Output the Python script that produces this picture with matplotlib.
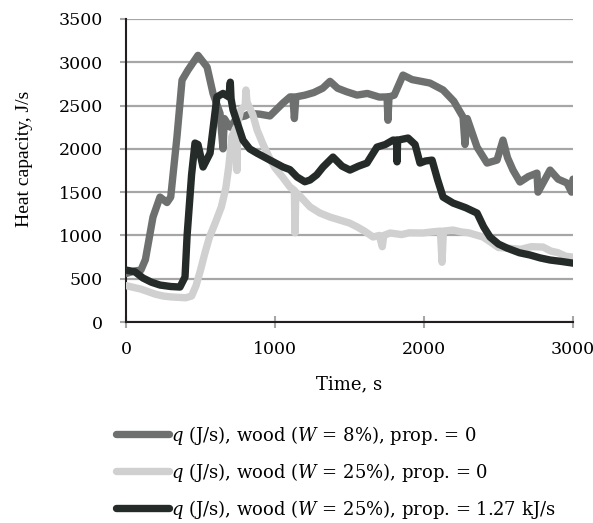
import matplotlib.pyplot as plt
from matplotlib.lines import Line2D

plt.rcParams['font.family'] = 'DejaVu Serif'
plt.rcParams['mathtext.fontset'] = 'dejavuserif'

# --- data ---
t_w8 = [0, 60, 100, 130, 181, 228, 275, 300, 342, 376, 416, 483, 544, 584, 631, 651, 660, 678,
        700, 745, 800, 832, 900, 966, 1054, 1101, 1120, 1130, 1140, 1200, 1260, 1320, 1369, 1420,
        1480, 1550, 1620, 1700, 1752, 1758, 1765, 1800, 1859, 1920, 1980, 2040, 2128, 2200, 2262,
        2275, 2290, 2356, 2423, 2490, 2530, 2560, 2597, 2644, 2700, 2758, 2765, 2846, 2900, 2960,
        2990, 3000]
q_w8 = [560, 590, 600, 720, 1212, 1443, 1380, 1443, 2140, 2794, 2910, 3080, 2945, 2640, 2410, 2000,
        2350, 2300, 2250, 2360, 2380, 2410, 2400, 2380, 2530, 2600, 2600, 2350, 2600, 2620, 2650,
        2700, 2780, 2700, 2660, 2621, 2640, 2598, 2600, 2330, 2600, 2620, 2852, 2800, 2780, 2760,
        2680, 2550, 2367, 2050, 2350, 2020, 1836, 1870, 2101, 1900, 1755, 1617, 1680, 1720, 1500,
        1755, 1650, 1605, 1500, 1650]

t_w25 = [0, 50, 100, 150, 200, 250, 300, 350, 400, 440, 470, 500, 530, 560, 600, 640, 670, 690,
         710, 740, 745, 750, 770, 800, 805, 812, 850, 880, 920, 960, 1000, 1050, 1100, 1130, 1134,
         1140, 1170, 1235, 1300, 1369, 1430, 1500, 1550, 1600, 1658, 1700, 1720, 1730, 1772, 1850,
         1900, 1993, 2050, 2110, 2121, 2130, 2195, 2250, 2300, 2396, 2450, 2500, 2557, 2650, 2720,
         2799, 2850, 2900, 2950, 3000]
q_w25 = [420, 400, 380, 350, 320, 300, 290, 285, 280, 300, 420, 600, 800, 980, 1150, 1330, 1550,
         1800, 2140, 2250, 1750, 2300, 2450, 2500, 2680, 2540, 2400, 2217, 2050, 1905, 1780, 1675,
         1560, 1520, 1030, 1500, 1450, 1330, 1260, 1212, 1180, 1143, 1100, 1050, 982, 1000, 870,
         1000, 1028, 1010, 1030, 1028, 1040, 1050, 690, 1050, 1062, 1040, 1030, 982, 920, 860, 854,
         840, 870, 866, 820, 800, 760, 750]

t_prop = [0, 60, 114, 170, 228, 300, 362, 396, 410, 440, 463, 483, 517, 564, 610, 651, 690, 700,
          705, 718, 785, 830, 879, 966, 1054, 1100, 1148, 1200, 1235, 1280, 1322, 1389, 1450, 1503,
          1560, 1617, 1684, 1740, 1792, 1815, 1819, 1823, 1893, 1940, 1973, 2010, 2054, 2090, 2128,
          2195, 2280, 2356, 2400, 2443, 2500, 2557, 2640, 2711, 2780, 2846, 2920, 3000]
q_prop = [600, 580, 508, 460, 427, 410, 404, 520, 1000, 1700, 2067, 2050, 1790, 1950, 2600, 2640,
          2600, 2770, 2580, 2450, 2100, 2000, 1950, 1870, 1790, 1760, 1675, 1620, 1640, 1700, 1790,
          1905, 1800, 1755, 1800, 1836, 2020, 2050, 2101, 2100, 1850, 2100, 2125, 2050, 1836, 1860,
          1870, 1650, 1443, 1374, 1320, 1258, 1100, 982, 900, 854, 800, 774, 740, 716, 700, 680]

labels = [r'$q$ (J/s), wood ($W$ = 8%), prop. = 0',
          r'$q$ (J/s), wood ($W$ = 25%), prop. = 0',
          r'$q$ (J/s), wood ($W$ = 25%), prop. = 1.27 kJ/s']
colors = ['#6d706f', '#d0d0d0', '#252b29']

fig = plt.figure(figsize=(5.93, 5.23), dpi=100)
ax = fig.add_axes([0.2125, 0.3843, 0.7538, 0.5794])

series = [(t_w8, q_w8), (t_w25, q_w25), (t_prop, q_prop)]
for (t, q), c in zip(series, colors):
    ax.plot(t, q, color=c, lw=5.3, solid_joinstyle='round', solid_capstyle='round', zorder=3)

ax.set_xlim(0, 3000)
ax.set_ylim(0, 3500)
ax.set_xticks([0, 1000, 2000, 3000])
ax.set_yticks(range(0, 3501, 500))
ax.yaxis.grid(True, color='#a6a6a6', lw=1.6)
ax.set_axisbelow(True)

for s in ['top', 'right']:
    ax.spines[s].set_visible(False)
for s in ['left', 'bottom']:
    ax.spines[s].set_color('#231f20')
    ax.spines[s].set_linewidth(1.5)
ax.tick_params(axis='x', direction='inout', length=9, width=1.5, color='#a6a6a6',
               labelsize=12.5, pad=9)
ax.tick_params(axis='y', direction='out', length=4.5, width=1.5, color='#a6a6a6',
               labelsize=12.5, pad=12)

ax.set_xlabel('Time, s', fontsize=13, labelpad=13)
# the vertical label reads narrower in the picture, so a narrower face
ax.set_ylabel('Heat capacity, J/s', fontsize=14, family='Liberation Serif')
ax.yaxis.set_label_coords(-0.208, 0.54)

handles = [Line2D([], [], color=c, lw=5.3, solid_capstyle='round') for c in colors]
fig.legend(handles, labels, loc='upper left', bbox_to_anchor=(0.196, 0.19),
           frameon=False, fontsize=13, handlelength=2.9, handletextpad=0.12,
           labelspacing=0.78, borderpad=0, borderaxespad=0)

fig.savefig('out.png', dpi=100)
